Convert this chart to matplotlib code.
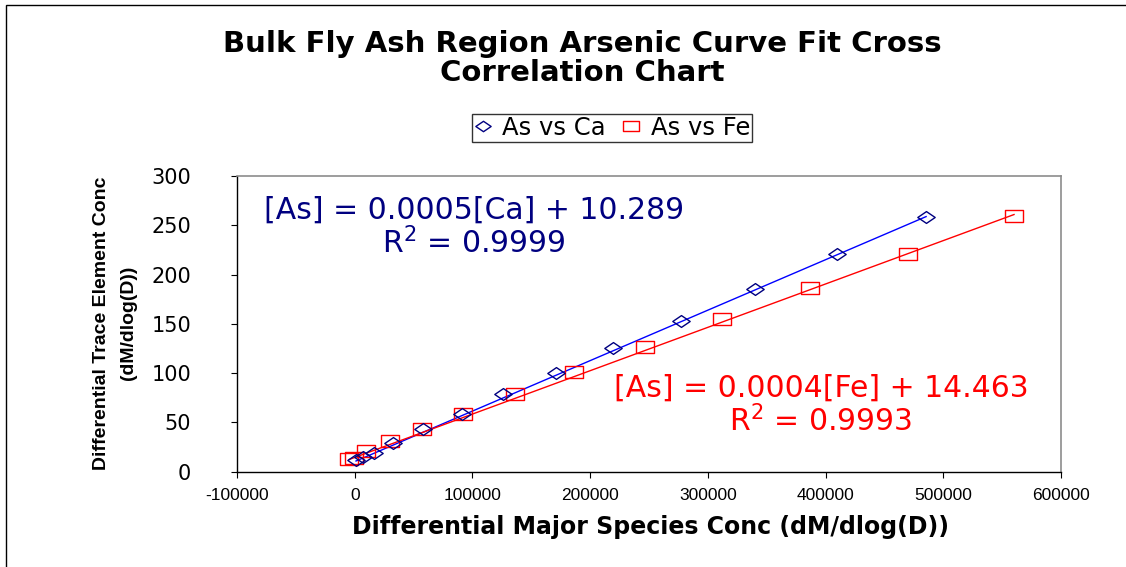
import matplotlib
matplotlib.use("Agg")
import matplotlib.pyplot as plt
from matplotlib.path import Path
from matplotlib.patches import Rectangle
from matplotlib.lines import Line2D

# Cross-correlation of arsenic against the two major species
ca_x = [485400, 410000, 340100, 277200, 219700, 171000, 126200, 90900,
        57800, 32800, 16400, 7000, 1100]
ca_y = [258.7, 220.6, 185.7, 153.2, 125.2, 100.4, 78.8, 58.5,
        43.0, 29.6, 19.3, 15.0, 11.9]
fe_x = [560100, 470300, 386800, 312300, 246600, 186600, 136200, 91600,
        57200, 30400, 10000, -600, -4800]
fe_y = [259.4, 220.9, 186.4, 154.6, 126.2, 101.1, 78.8, 59.0,
        43.0, 30.8, 21.0, 14.4, 12.4]

# Linear trendline coefficients (slope, intercept) and goodness of fit
ca_fit = (0.000512, 10.289)
fe_fit = (0.000440, 14.463)
ca_r2 = 0.9999
fe_r2 = 0.9993

x_ticks = [-100000, 0, 100000, 200000, 300000, 400000, 500000, 600000]
y_ticks = [0, 50, 100, 150, 200, 250, 300]

WIDE = ["DejaVu Sans"]
NARROW = ["Liberation Sans Narrow", "Liberation Sans", "DejaVu Sans"]
plt.rcParams["font.family"] = WIDE
plt.rcParams["mathtext.fontset"] = "dejavusans"

NAVY = "#000080"
BLUE = "#0000FF"
RED = "#FF0000"

# Wide diamond and wide box markers
diamond = Path([(-1, 0), (0, 0.68), (1, 0), (0, -0.68), (-1, 0)],
               [Path.MOVETO, Path.LINETO, Path.LINETO, Path.LINETO, Path.CLOSEPOLY])
box = Path([(-1, -0.66), (1, -0.66), (1, 0.66), (-1, 0.66), (-1, -0.66)],
           [Path.MOVETO, Path.LINETO, Path.LINETO, Path.LINETO, Path.CLOSEPOLY])

W, H = 1126, 567
fig = plt.figure(figsize=(W / 100, H / 100), dpi=100)
fig.patch.set_facecolor("white")

# outer chart border
fig.patches.append(Rectangle((6 / W, -0.2), 1.5, (1 - 5 / H) + 0.2,
                             transform=fig.transFigure, fill=False,
                             edgecolor="black", linewidth=1.0))

left, right, top, bottom = 237, 1061, 176, 471.7
ax = fig.add_axes([left / W, 1 - bottom / H, (right - left) / W, (bottom - top) / H])

# trendlines
for xs, fit, col in ((ca_x, ca_fit, BLUE), (fe_x, fe_fit, RED)):
    x0, x1 = min(xs), max(xs)
    ax.plot([x0, x1], [fit[0] * x0 + fit[1], fit[0] * x1 + fit[1]],
            color=col, linewidth=1.0, zorder=2)

ax.plot(fe_x, fe_y, linestyle="none", marker=box, markersize=12.5,
        markerfacecolor="none", markeredgecolor=RED, markeredgewidth=1.0, zorder=3)
ax.plot(ca_x, ca_y, linestyle="none", marker=diamond, markersize=12.5,
        markerfacecolor="none", markeredgecolor=NAVY, markeredgewidth=1.0, zorder=4)

ax.set_xlim(x_ticks[0], x_ticks[-1])
ax.set_ylim(y_ticks[0], y_ticks[-1])
ax.set_xticks(x_ticks)
ax.set_yticks(y_ticks)
ax.set_xticklabels([str(v) for v in x_ticks], fontsize=12.5, family=NARROW)
ax.set_yticklabels([str(v) for v in y_ticks], fontsize=15, family=WIDE)
ax.tick_params(axis="both", direction="out", length=4, width=0.8, colors="black")
ax.tick_params(axis="y", pad=29)
ax.tick_params(axis="x", pad=8)

for side in ("top", "right"):
    ax.spines[side].set_color("#8c8c8c")
    ax.spines[side].set_linewidth(1.2)
for side in ("left", "bottom"):
    ax.spines[side].set_color("black")
    ax.spines[side].set_linewidth(1.0)

# equations
ca_eq = f"[As] = {ca_fit[0]:.4f}[Ca] + {ca_fit[1]:.3f}"
fe_eq = f"[As] = {fe_fit[0]:.4f}[Fe] + {fe_fit[1]:.3f}"


def px(x, y):
    return x / W, 1 - y / H


EQ_SIZE = 21.5
fig.text(*px(474, 210), ca_eq, color=NAVY, fontsize=EQ_SIZE, ha="center", va="center")
fig.text(*px(474, 243), f"R$^2$ = {ca_r2:.4f}", color=NAVY, fontsize=EQ_SIZE,
         ha="center", va="center")
fig.text(*px(821, 388), fe_eq, color=RED, fontsize=EQ_SIZE, ha="center", va="center")
fig.text(*px(821, 421), f"R$^2$ = {fe_r2:.4f}", color=RED, fontsize=EQ_SIZE,
         ha="center", va="center")

# titles
fig.text(*px(582, 44), "Bulk Fly Ash Region Arsenic Curve Fit Cross",
         fontsize=21, fontweight="bold", ha="center", va="center")
fig.text(*px(582, 73), "Correlation Chart",
         fontsize=21, fontweight="bold", ha="center", va="center")
fig.text(*px(651, 527), "Differential Major Species Conc (dM/dlog(D))",
         fontsize=17, fontweight="bold", ha="center", va="center")
fig.text(*px(102, 323), "Differential Trace Element Conc", rotation=90,
         fontsize=14, fontweight="bold", ha="center", va="center", family=NARROW)
fig.text(*px(128, 323), "(dM/dlog(D))", rotation=90,
         fontsize=14, fontweight="bold", ha="center", va="center", family=NARROW)

# legend
handles = [
    Line2D([], [], linestyle="none", marker=diamond, markersize=11,
           markerfacecolor="none", markeredgecolor=NAVY, markeredgewidth=1.0),
    Line2D([], [], linestyle="none", marker=box, markersize=11,
           markerfacecolor="none", markeredgecolor=RED, markeredgewidth=1.0),
]
leg = fig.legend(handles, ["As vs Ca", "As vs Fe"], loc="center",
                 bbox_to_anchor=px(612, 128), ncol=2, fontsize=17.5,
                 frameon=True, fancybox=False, edgecolor="black",
                 handlelength=0.7, handletextpad=0.45, columnspacing=0.7,
                 borderpad=0.1, borderaxespad=0)
leg.get_frame().set_linewidth(1.0)

fig.savefig("out.png", dpi=100, facecolor="white")
